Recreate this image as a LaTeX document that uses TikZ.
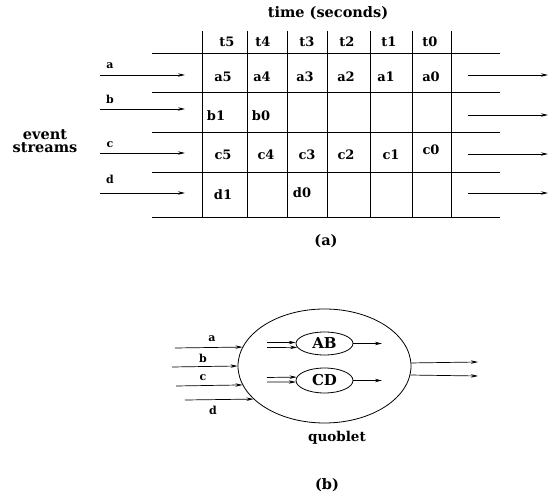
\documentclass[tikz,border=0pt]{standalone}
\usepackage{fontspec}
\setmainfont{DejaVu Serif}
\usetikzlibrary{arrows.meta,shapes.geometric}
\begin{document}
\begin{tikzpicture}[x=1pt,y=-1pt,
  txt/.style={inner sep=0pt,font=\fontsize{#1}{#1}\selectfont\bfseries},
  cell/.style={txt=13},
  lbl/.style={txt=11},
  big/.style={txt=14.5},
  rule/.style={line width=0.8pt},
  flow/.style={line width=0.7pt,-{Stealth[length=7pt,width=3.4pt]}},
  oval/.style={draw,ellipse,line width=0.8pt,inner sep=0pt},
]
\useasboundingbox (0,0) rectangle (550,497);

% ---------- (a) time table of event streams ----------
\node[big] (title) at (328,13) {time (seconds)};

\foreach \y in {53,92,132,172,217}
  \draw[rule] (152,\y) -- (500,\y);
\foreach \x in {202,247,287,327,370,412,451}
  \draw[rule] (\x,31) -- (\x,217);

% column heads
\node[cell] (t5) at (227,42) {t5};
\node[cell] (t4) at (263,42) {t4};
\node[cell] (t3) at (307,42) {t3};
\node[cell] (t2) at (347,42) {t2};
\node[cell] (t1) at (389,42) {t1};
\node[cell] (t0) at (430,42) {t0};

% stream a
\node[cell] (a5) at (223,77) {a5};
\node[cell] (a4) at (262,77) {a4};
\node[cell] (a3) at (305,77) {a3};
\node[cell] (a2) at (346,77) {a2};
\node[cell] (a1) at (386,77) {a1};
\node[cell] (a0) at (431,77) {a0};
% stream b
\node[cell] (b1) at (216,116) {b1};
\node[cell] (b0) at (261,116) {b0};
% stream c
\node[cell] (c5) at (223,155) {c5};
\node[cell] (c4) at (266,155) {c4};
\node[cell] (c3) at (307,155) {c3};
\node[cell] (c2) at (346,155) {c2};
\node[cell] (c1) at (391,155) {c1};
\node[cell] (c0) at (431,150) {c0};
% stream d
\node[cell] (d1) at (223,195) {d1};
\node[cell] (d0) at (302,193) {d0};

% incoming streams
\node[big,align=center] (streams) at (45,141) {event\\[-1.5pt]streams};
\foreach \n/\y/\ly in {a/75/66,b/109/99,c/153/145,d/193/179}{
  \coordinate (in\n) at (100,\y);
  \coordinate (enter\n) at (185,\y);
  \node[lbl] (lab\n) at (110,\ly) {\n};
  \draw[flow] (in\n) -- (enter\n);
}
% outgoing streams
\foreach \n/\y in {a/75,b/115,c/154,d/193}{
  \coordinate (leave\n) at (468,\y);
  \coordinate (out\n) at (548,\y);
  \draw[flow] (leave\n) -- (out\n);
}
\node[big] (capa) at (326,241) {(a)};

% ---------- (b) quoblet ----------
\node[oval,minimum width=173pt,minimum height=114pt] (Q) at (324.5,366) {};
\node[oval,minimum width=57pt,minimum height=23pt,txt=15] (AB) at (324.5,343.5) {AB};
\node[oval,minimum width=57pt,minimum height=25pt,txt=15] (CD) at (324.5,380.5) {CD};
\node[txt=13.5] (quoblet) at (337,438) {quoblet};
\node[big] (capb) at (327,485) {(b)};

% inputs to the quoblet
\coordinate (qa) at (175,348);
\coordinate (qb) at (172,367);
\coordinate (qc) at (176,386);
\coordinate (qd) at (185,400);
\draw[flow] (qa) -- (Q.167.6);
\draw[flow] (qb) -- (Q.180.5);
\draw[flow] (qc) -- (Q.193.8);
\draw[flow] (qd) -- (Q.205);
\node[lbl] (qla) at (212,339) {a};
\node[lbl] (qlb) at (203,358) {b};
\node[lbl] (qlc) at (203,378) {c};
\node[lbl] (qld) at (213,410) {d};

% inner operators
\coordinate (ab1) at (267,342.5);
\coordinate (ab2) at (267,347.5);
\coordinate (cd1) at (267,377.5);
\coordinate (cd2) at (267,382);
\draw[flow] (ab1) -- (AB.178);
\draw[flow] (ab2) -- (AB.188.5);
\draw[flow] (cd1) -- (CD.173.8);
\draw[flow] (cd2) -- (CD.183);
\coordinate (abo) at (382,343.5);
\coordinate (cdo) at (382,380.5);
\draw[flow] (AB.east) -- (abo);
\draw[flow] (CD.east) -- (cdo);

% quoblet outputs
\coordinate (qo1) at (478,362);
\coordinate (qo2) at (478,376);
\draw[flow] (Q.2.7) -- (qo1);
\draw[flow] (Q.-6.7) -- (qo2);
\end{tikzpicture}
\end{document}
